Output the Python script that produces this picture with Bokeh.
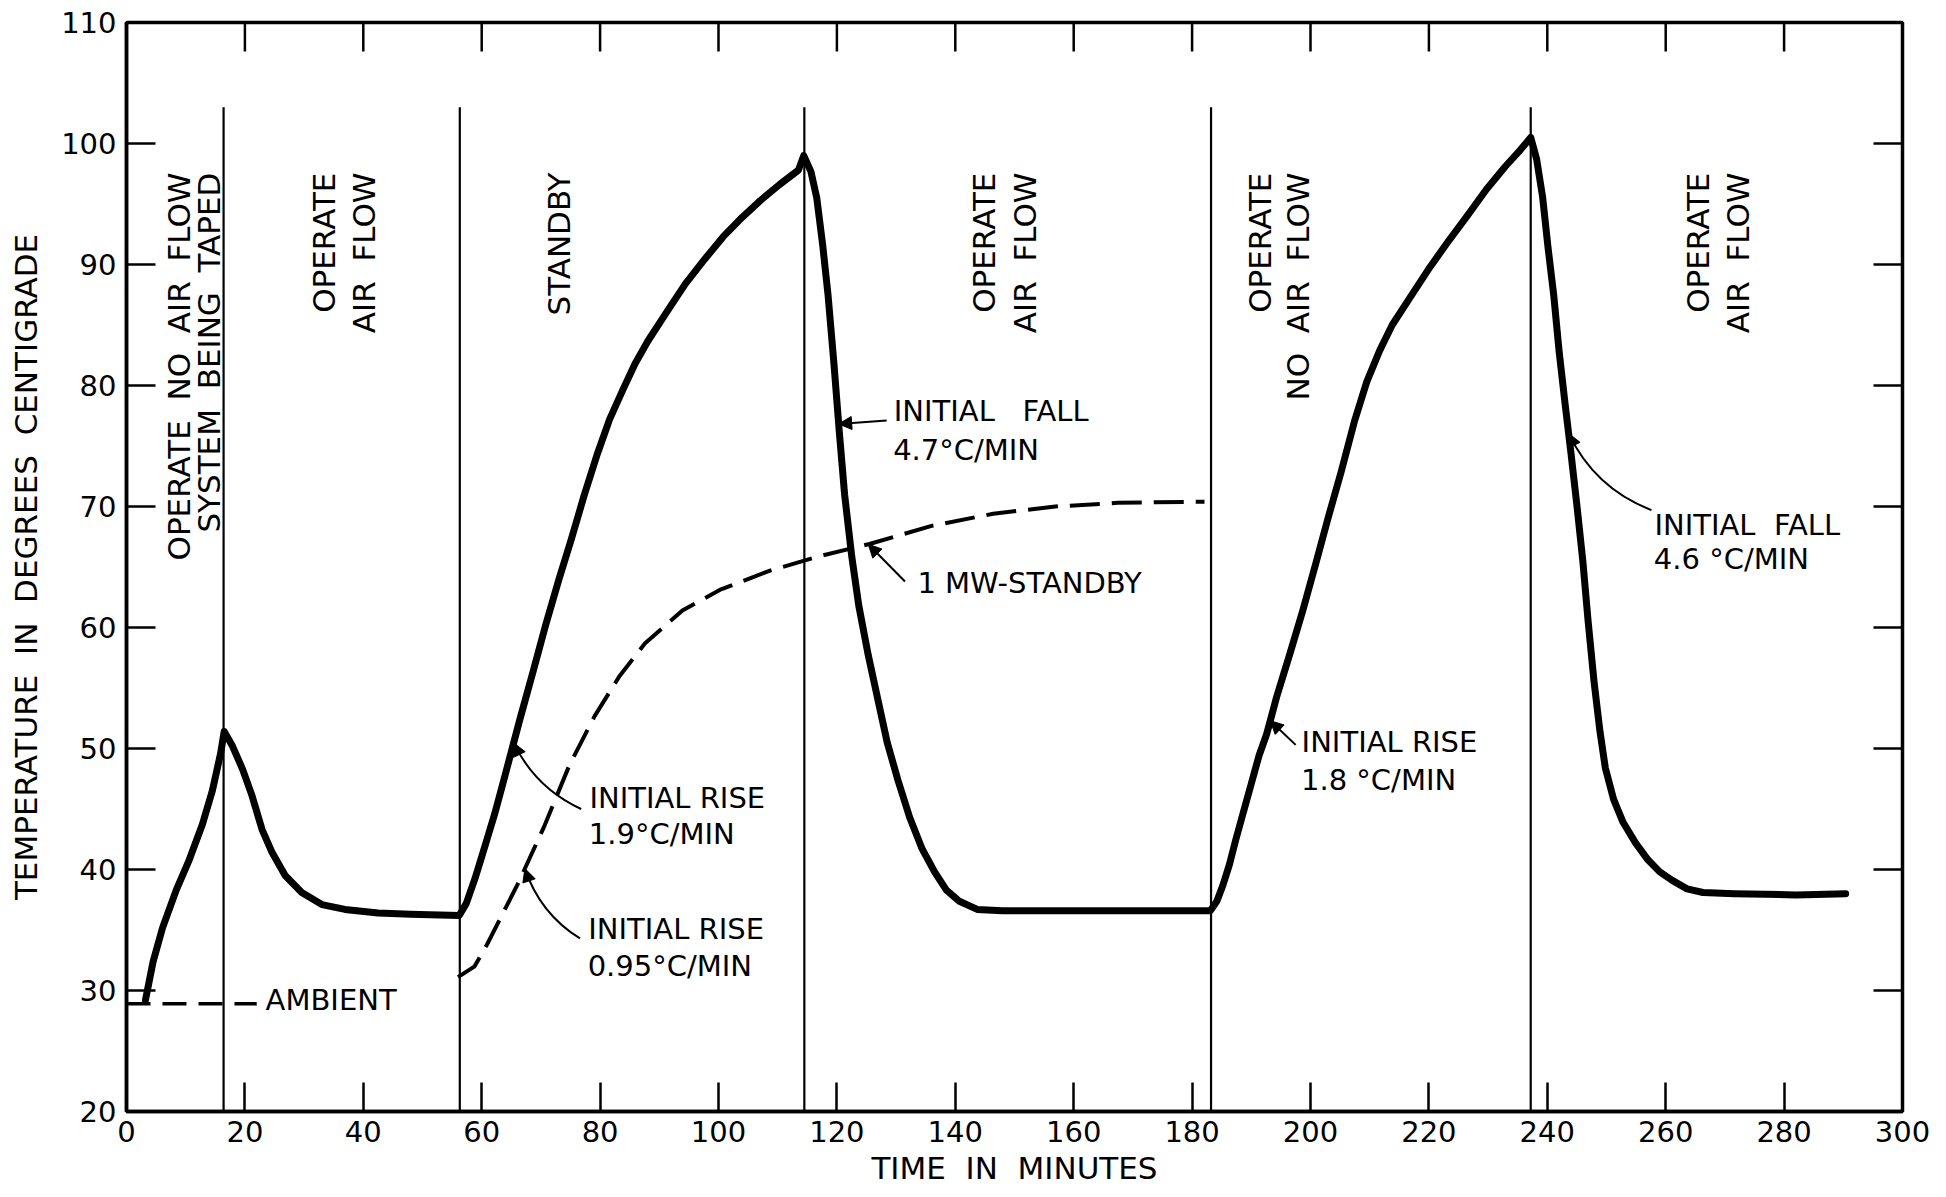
import numpy as np
from bokeh.plotting import figure
from bokeh.models import Range1d, FixedTicker, Arrow, NormalHead
from bokeh.core.properties import value
from bokeh.embed import file_html
from bokeh.resources import INLINE

# ---------------- data ----------------
x_ticks = [0, 20, 40, 60, 80, 100, 120, 140, 160, 180, 200, 220, 240, 260, 280, 300]
y_ticks = [20, 30, 40, 50, 60, 70, 80, 90, 100, 110]

main_time = [3.2, 4.5, 6.1, 8.4, 10.6, 12.8, 14.5, 15.9, 16.5, 17.9, 19.6, 21.2, 22.9, 24.6,
             26.8, 29.6, 33.0, 36.9, 42.5, 48.0, 56.2,
             57.4, 58.9, 60.4, 62.2, 63.9, 66.5, 68.7, 70.8, 73.0, 75.2, 77.3, 79.5, 81.6,
             83.8, 85.9, 88.1, 91.3, 94.4, 97.6, 100.8, 104.0, 107.1, 110.3, 113.5, 114.4,
             115.6, 116.6, 117.6, 118.5, 119.5, 120.4, 121.3, 122.5, 123.7, 125.3, 126.9,
             128.5, 130.3, 132.3, 134.4, 136.5, 138.5, 140.6, 143.7, 147.9, 166.8, 183.1,
             184.2, 185.2, 186.3, 187.4, 188.7, 190.0, 191.3, 192.6, 194.3, 196.5, 198.7,
             200.9, 203.0, 205.2, 207.4, 209.5, 211.7, 213.8, 217.0, 220.2, 223.4, 226.6,
             229.7, 232.9, 235.5, 237.2,
             238.2, 239.2, 240.1, 241.1, 242.0, 243.0, 244.0, 245.0, 246.0, 246.9, 247.9,
             248.9, 249.8, 251.2, 252.8, 254.9, 257.0, 259.0, 261.1, 263.6, 266.3, 271.6,
             282.0, 290.4]
main_temp = [29.2, 32.4, 35.2, 38.3, 40.8, 43.7, 46.5, 49.6, 51.4, 50.2, 48.3, 46.1, 43.3, 41.4,
             39.5, 38.1, 37.1, 36.7, 36.4, 36.3, 36.2,
             37.2, 39.3, 41.7, 44.6, 47.7, 52.5, 56.4, 60.2, 63.9, 67.4, 70.9, 74.3, 77.2,
             79.6, 81.8, 83.7, 86.1, 88.4, 90.4, 92.3, 93.9, 95.3, 96.6, 97.8, 99.0,
             97.7, 95.5, 91.6, 87.5, 81.8, 76.2, 71.0, 65.9, 61.8, 57.7, 54.1,
             50.5, 47.4, 44.3, 41.7, 39.8, 38.3, 37.4, 36.7, 36.6, 36.6, 36.6,
             37.4, 38.7, 40.4, 42.5, 44.8, 47.1, 49.4, 51.2, 54.3, 57.8, 61.4,
             65.3, 69.1, 72.9, 77.0, 80.3, 82.9, 85.0, 87.4, 89.8, 92.0, 94.1,
             96.2, 98.1, 99.5, 100.5,
             98.7, 95.6, 91.5, 87.4, 82.8, 78.5, 74.4, 70.1, 65.5, 60.5, 55.5,
             51.4, 48.4, 45.8, 43.9, 42.2, 40.8, 39.8, 39.1, 38.4, 38.1, 38.0,
             37.9, 38.0]

standby_time = [56.0, 58.8, 60.9, 66.2, 70.5, 74.8, 79.1, 83.3, 87.6, 93.9, 100.2, 108.7,
                117.1, 125.5, 136.0, 146.4, 156.9, 167.4, 182.1]
standby_temp = [31.1, 32.0, 33.8, 38.9, 43.5, 48.6, 52.7, 56.0, 58.7, 61.4, 63.1, 64.7,
                65.9, 66.9, 68.4, 69.4, 70.0, 70.3, 70.4]

ambient_time = [0, 22]
ambient_temp = [28.9, 28.9]

mode_change_time = [16.4, 56.3, 114.5, 183.2, 237.2]
mode_line_bottom = 20
mode_line_top = 103

S2 = "\u00a0 "  # a wide word gap as in the lettered original
mode_label_text = ["OPERATE" + S2 + "NO" + S2 + "AIR" + S2 + "FLOW",
                   "SYSTEM" + S2 + "BEING" + S2 + "TAPED",
                   "OPERATE", "AIR" + S2 + "FLOW",
                   "STANDBY",
                   "OPERATE", "AIR" + S2 + "FLOW",
                   "OPERATE", "NO" + S2 + "AIR" + S2 + "FLOW",
                   "OPERATE", "AIR" + S2 + "FLOW"]
mode_label_time = [8.8, 14.0, 33.4, 40.2, 73.1, 144.8, 151.8, 191.5, 197.9, 265.4, 272.2]
mode_label_top = [97.6] * len(mode_label_text)

note_text = ["INITIAL" + S2 + "\u00a0FALL", "4.7°C/MIN", "1 MW-STANDBY",
             "INITIAL RISE", "1.9°C/MIN", "INITIAL RISE", "0.95°C/MIN",
             "INITIAL RISE", "1.8 °C/MIN", "INITIAL" + S2 + "FALL", "4.6 °C/MIN", "AMBIENT"]
note_time = [129.6, 129.5, 133.6, 78.2, 78.1, 78.0, 77.9, 198.5, 198.4, 258.1, 258.0, 23.5]
note_temp = [77.9, 74.7, 63.7, 45.9, 42.9, 35.1, 32.0, 50.5, 47.4, 68.5, 65.7, 29.2]

arrow_curve = ["main", "standby", "main", "standby", "main", "main"]
arrow_tip_time = [120.3, 125.3, 65.4, 67.3, 193.2, 243.6]
arrow_tail_time = [128.4, 131.5, 76.8, 76.6, 197.5, 257.6]
arrow_tail_temp = [77.1, 63.8, 45.0, 34.3, 50.3, 69.7]
arrow_bend = [0.0, 0.0, 0.18, 0.18, 0.0, 0.2]

# ---------------- figure ----------------
W, H = 1946, 1197
BL, BR, BT, BB = 126, 44, 22, 86
p = figure(width=W, height=H, x_range=Range1d(0, 300), y_range=Range1d(20, 110),
           output_backend="svg", toolbar_location=None,
           min_border_left=BL, min_border_right=BR, min_border_top=BT, min_border_bottom=BB)
p.background_fill_color = "white"
p.border_fill_color = "white"
p.outline_line_color = "black"
p.outline_line_width = 3.5
p.xgrid.visible = False
p.ygrid.visible = False

FONT = "DejaVu Sans"
TICK_LEN = 29
SX = (W - BL - BR) / 300.0   # px per minute
SY = (H - BT - BB) / 90.0    # px per degree

for ax in (p.xaxis[0], p.yaxis[0]):
    ax.major_tick_in = TICK_LEN
    ax.major_tick_out = 0
    ax.minor_tick_line_color = None
    ax.major_tick_line_width = 2.5
    ax.major_tick_line_color = "black"
    ax.axis_line_width = 3.5
    ax.axis_line_color = "black"
    ax.major_label_text_font = FONT
    ax.major_label_text_color = "black"
    ax.major_label_text_font_size = "29px"
    ax.axis_label_text_font = FONT
    ax.axis_label_text_font_size = "31px"
    ax.axis_label_text_font_style = "normal"
    ax.axis_label_text_color = "black"
p.xaxis.ticker = FixedTicker(ticks=x_ticks)
p.yaxis.ticker = FixedTicker(ticks=y_ticks)
p.xaxis.major_label_standoff = 9
p.yaxis.major_label_standoff = 10
p.xaxis.axis_label_standoff = 5
p.yaxis.axis_label_standoff = 14
p.xaxis.axis_label = "TIME" + S2 + "IN" + S2 + "MINUTES"
p.yaxis.axis_label = "TEMPERATURE" + S2 + "IN" + S2 + "DEGREES" + S2 + "CENTIGRADE"

# mirrored inward ticks on the top and right frame edges
p.segment(x0=x_ticks, y0=[110] * len(x_ticks), x1=x_ticks,
          y1=[110 - TICK_LEN / SY] * len(x_ticks), line_color="black", line_width=2.5)
p.segment(x0=[300] * len(y_ticks), y0=y_ticks, x1=[300 - TICK_LEN / SX] * len(y_ticks),
          y1=y_ticks, line_color="black", line_width=2.5)

# mode change lines
p.segment(x0=mode_change_time, y0=[mode_line_bottom] * len(mode_change_time),
          x1=mode_change_time, y1=[mode_line_top] * len(mode_change_time),
          line_color="black", line_width=2.2)

# curves
p.line(ambient_time, ambient_temp, line_color="black", line_width=3.5, line_dash="24 12")
p.line(standby_time, standby_temp, line_color="black", line_width=4, line_dash="30 12")
p.line(main_time, main_temp, line_color="black", line_width=7, line_join="round",
       line_cap="round")

# vertical mode labels
p.text(x=mode_label_time, y=mode_label_top, text=mode_label_text, angle=np.pi / 2,
       text_align="right", text_baseline="middle", text_font=value(FONT),
       text_font_size="31px", text_color="black")

# annotation texts
p.text(x=note_time, y=note_temp, text=note_text, text_align="left", text_baseline="middle",
       text_font=value(FONT), text_font_size="29px", text_color="black")

# leader arrows
curves = {"main": (main_time, main_temp), "standby": (standby_time, standby_temp)}
qx0, qy0, qx1, qy1, qcx, qcy = [], [], [], [], [], []
for name, tt, tx, ty, b in zip(arrow_curve, arrow_tip_time, arrow_tail_time, arrow_tail_temp,
                               arrow_bend):
    ct, cT = curves[name]
    tip_x = tt
    tip_y = float(np.interp(tt, ct, cT))
    dxp = (tip_x - tx) * SX
    dyp = (tip_y - ty) * SY
    mx, my = (tip_x + tx) / 2, (tip_y + ty) / 2
    cx = mx + b * (-dyp) / SX
    cy = my + b * (dxp) / SY
    qx0.append(tx); qy0.append(ty); qx1.append(tip_x); qy1.append(tip_y)
    qcx.append(cx); qcy.append(cy)
    sx = tip_x - 0.2 * (tip_x - cx)
    sy = tip_y - 0.2 * (tip_y - cy)
    p.add_layout(Arrow(x_start=sx, y_start=sy, x_end=tip_x, y_end=tip_y, line_width=2,
                       line_color="black",
                       end=NormalHead(size=13, fill_color="black", line_color="black",
                                      line_width=1)))
p.quadratic(x0=qx0, y0=qy0, x1=qx1, y1=qy1, cx=qcx, cy=qcy, line_color="black", line_width=2)

open("out.html", "w").write(file_html(p, INLINE))
